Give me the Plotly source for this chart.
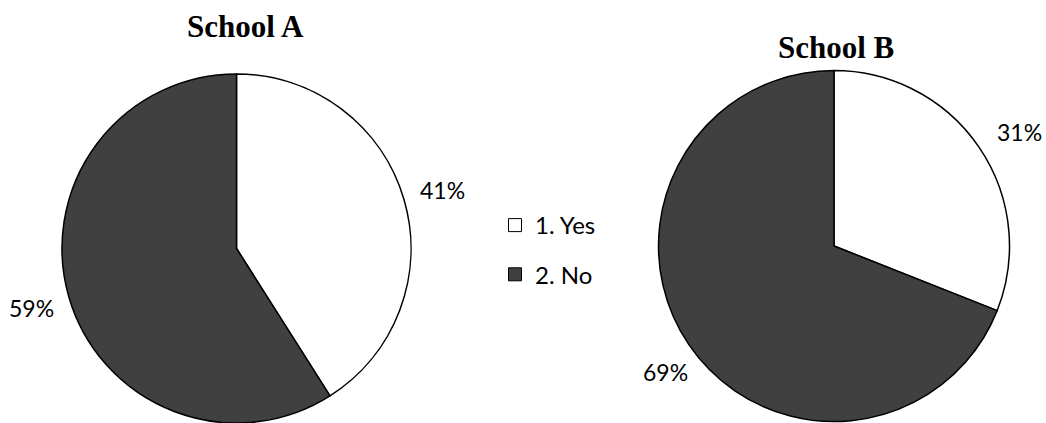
import plotly.graph_objects as go

# ---- data ----
categories = ["1. Yes", "2. No"]
school_a = [41, 59]
school_b = [31, 69]
schools = ["School A", "School B"]
colors = ["#FFFFFF", "#404040"]

W, H = 1046, 423

def px_x(p):
    return p / W

def px_y(p):
    return 1 - p / H

fig = go.Figure()

# pie domains (pixel extents)
dom_a = dict(x=[px_x(62), px_x(411)], y=[0, px_y(74)])
dom_b = dict(x=[px_x(658.5), px_x(1009.5)], y=[px_y(421.5), px_y(70.5)])

for vals, dom in [(school_a, dom_a), (school_b, dom_b)]:
    fig.add_trace(go.Pie(
        labels=categories, values=vals, domain=dom,
        sort=False, direction="clockwise", rotation=0,
        marker=dict(colors=colors, line=dict(color="black", width=1.5)),
        textinfo="none", hoverinfo="label+percent", showlegend=False,
    ))

# legend entries
for i, (cat, col) in enumerate(zip(categories, colors)):
    fig.add_trace(go.Scatter(
        x=[None], y=[None], mode="markers", name=cat, legendgroup=cat,
        marker=dict(symbol="square", size=13, color=col,
                    line=dict(color="black", width=1)),
        showlegend=True,
    ))

# titles
title_pos = [(245, 27), (836, 47)]
for t, (x, y) in zip(schools, title_pos):
    fig.add_annotation(x=px_x(x), y=px_y(y), xref="paper", yref="paper",
                       text=f"<b>{t}</b>", showarrow=False,
                       xanchor="center", yanchor="middle",
                       font=dict(family="Liberation Serif", size=31, color="black"))

# percentage labels
label_pos_a = [(442, 190), (31, 308)]
label_pos_b = [(1019, 132), (665, 372)]
for vals, poss in [(school_a, label_pos_a), (school_b, label_pos_b)]:
    for v, (x, y) in zip(vals, poss):
        fig.add_annotation(x=px_x(x), y=px_y(y), xref="paper", yref="paper",
                           text=f"{v}%", showarrow=False,
                           xanchor="center", yanchor="middle",
                           font=dict(family="Lato", size=23, color="black"))

fig.update_layout(
    width=W, height=H,
    margin=dict(l=0, r=0, t=0, b=0),
    paper_bgcolor="white", plot_bgcolor="white",
    xaxis=dict(visible=False), yaxis=dict(visible=False),
    legend=dict(x=px_x(495), y=px_y(203), xanchor="left", yanchor="top",
                traceorder="grouped", tracegroupgap=15,
                font=dict(family="Lato", size=24, color="black"),
                bgcolor="rgba(0,0,0,0)", borderwidth=0),
)

fig.write_html("out.html")
